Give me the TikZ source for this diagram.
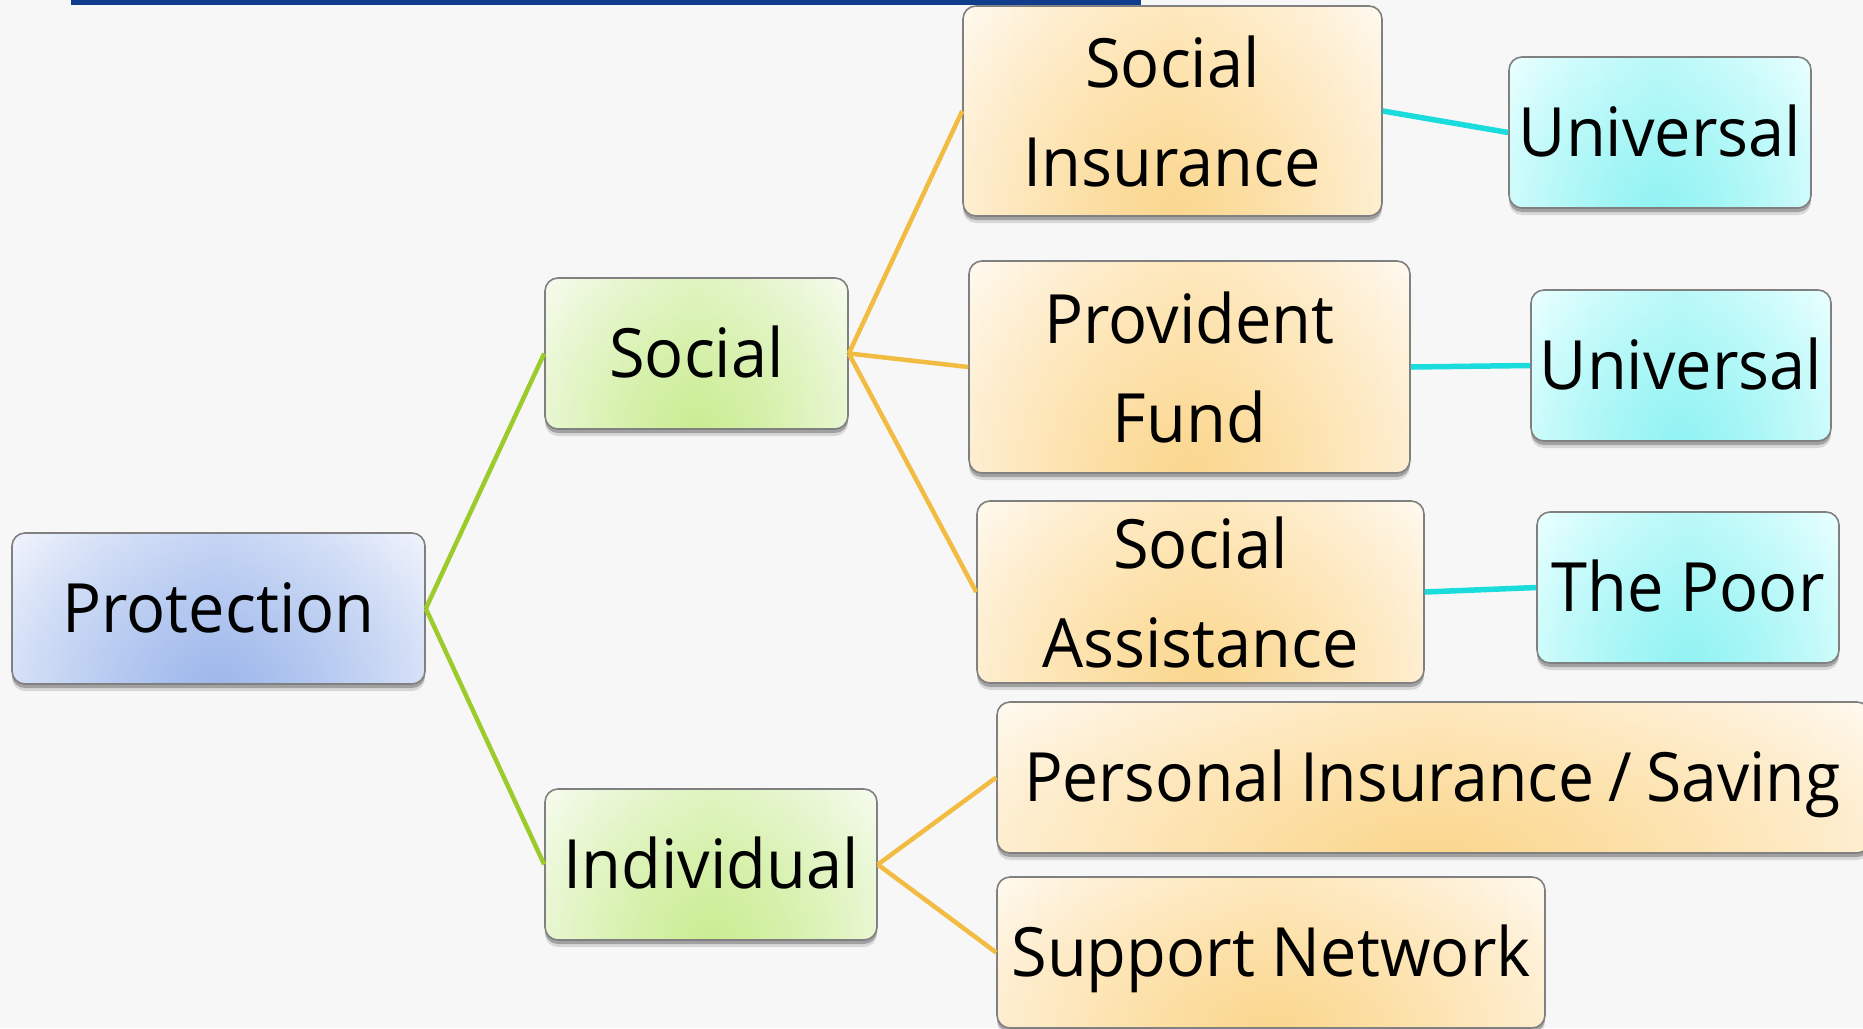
\documentclass[tikz,border=0pt]{standalone}
\usepackage{fontspec}
\newfontfamily\boxfont{Open Sans}[FakeStretch=0.955]
\newfontfamily\pisfont{Open Sans}[FakeStretch=0.945, WordSpace=0.85]
\usetikzlibrary{calc,shadows,fadings}
\definecolor{bgc}{HTML}{F7F7F7}
\definecolor{topbar}{HTML}{0F3D8C}
\definecolor{bordc}{HTML}{808080}
\definecolor{greenline}{HTML}{9CCC2C}
\definecolor{orangeline}{HTML}{F2BC42}
\definecolor{cyanline}{HTML}{1ADCDC}
\definecolor{blueedge}{HTML}{EEF2FC}
\definecolor{bluemid}{HTML}{D2DEF7}
\definecolor{bluedeep}{HTML}{98B4EA}
\definecolor{greenedge}{HTML}{F5FBEC}
\definecolor{greenmid}{HTML}{E6F6CF}
\definecolor{greendeep}{HTML}{C8EC8C}
\definecolor{orangeedge}{HTML}{FFF8EC}
\definecolor{orangemid}{HTML}{FFEDCB}
\definecolor{orangedeep}{HTML}{FBD588}
\definecolor{cyanedge}{HTML}{E8FFFF}
\definecolor{cyanmid}{HTML}{C8FBFB}
\definecolor{cyandeep}{HTML}{8CF2F2}
\tikzfading[name=glow, inner color=transparent!10, outer color=transparent!100]
\tikzset{
  box/.style={rectangle, rounded corners=13pt, draw=bordc, line width=1.6pt,
    fill=#1edge, text=black,
    font=\boxfont\fontsize{68}{99}\selectfont, align=center, inner sep=0pt,
    drop shadow={shadow xshift=0pt, shadow yshift=-7pt, opacity=0.12, fill=black},
    drop shadow={shadow xshift=0pt, shadow yshift=-4pt, opacity=0.25, fill=black},
    path picture={
      \shade[left color=#1edge, right color=#1edge, middle color=#1mid]
        (path picture bounding box.south west) rectangle (path picture bounding box.north east);
      \fill[#1deep, path fading=glow]
        let \p1=(path picture bounding box.south west),
            \p2=(path picture bounding box.north east) in
        (path picture bounding box.south) ellipse ({0.7*(\x2-\x1)} and {1.3*(\y2-\y1)});
    }},
  oneline/.style={text height=48.5pt, text depth=0pt},
  gline/.style={draw=greenline, line width=4.5pt},
  oline/.style={draw=orangeline, line width=4.5pt},
  cline/.style={draw=cyanline, line width=5.5pt}
}
\begin{document}
\begin{tikzpicture}[x=1pt,y=-1pt]
\useasboundingbox (0,0) rectangle (1863,1028);
\clip (0,0) rectangle (1863,1028);
\fill[bgc] (0,0) rectangle (1863,1028);
\fill[topbar] (71,0) rectangle (1141,5);

% nodes
\node[box=blue, oneline, minimum width=413pt, minimum height=151pt] (prot) at (218.5,608.5) {Protection};
\node[box=green, oneline, minimum width=303pt, minimum height=151pt] (social) at (696.5,353.5) {Social};
\node[box=green, oneline, minimum width=332pt, minimum height=151pt] (indiv) at (711,864.5) {Individual};
\node[box=orange, minimum width=419pt, minimum height=210pt] (si) at (1172.5,111) {Social\\Insurance};
\node[box=orange, minimum width=441pt, minimum height=212pt] (pf) at (1189.5,367) {Provident\\Fund};
\node[box=orange, minimum width=447pt, minimum height=182pt] (sa) at (1200.5,592) {Social\\Assistance};
\node[box=cyan, oneline, minimum width=302pt, minimum height=151pt] (u1) at (1660,132.5) {Universal};
\node[box=cyan, oneline, minimum width=300pt, minimum height=151pt] (u2) at (1681,365.5) {Universal};
\node[box=cyan, oneline, minimum width=302pt, minimum height=151pt] (poor) at (1688,587.5) {The Poor};
\node[box=orange, oneline, minimum width=873pt, minimum height=151pt] (pis) at (1433.5,777.5) {\pisfont\fontsize{68}{99}\selectfont\makebox[819pt][l]{Personal Insurance / Saving}};
\node[box=orange, oneline, minimum width=548pt, minimum height=151pt] (sn) at (1271,952.5) {Support Network};

% connectors
\draw[gline] (prot.east) -- (social.west);
\draw[gline] (prot.east) -- (indiv.west);
\draw[oline] (social.east) -- (si.west);
\draw[oline] (social.east) -- (pf.west);
\draw[oline] (social.east) -- (sa.west);
\draw[oline] (indiv.east) -- (pis.west);
\draw[oline] (indiv.east) -- (sn.west);
\draw[cline] (si.east) -- (u1.west);
\draw[cline] (pf.east) -- (u2.west);
\draw[cline] (sa.east) -- (poor.west);
\end{tikzpicture}
\end{document}
